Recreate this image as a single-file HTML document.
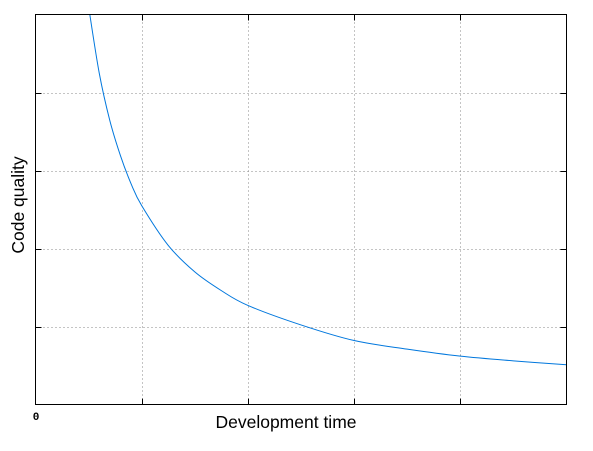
<!DOCTYPE html>
<html><head><meta charset="utf-8"><style>
body{margin:0;background:#fff;width:593px;height:451px;overflow:hidden}
svg{display:block}
</style></head><body>
<svg id="chart" width="593" height="451" xmlns="http://www.w3.org/2000/svg">
<defs><clipPath id="plotclip"><rect x="35.5" y="14.5" width="531" height="390"/></clipPath></defs>
<rect x="0" y="0" width="593" height="451" fill="#fff"/>
<g id="grid"></g>
<g id="ticks"></g>
<path id="curve" fill="none" stroke="#0077dd" stroke-width="1" clip-path="url(#plotclip)"/>
<rect x="35.5" y="14.5" width="531" height="390" fill="none" stroke="#000" stroke-width="1"/>
<text x="36" y="420" font-family="Liberation Mono, monospace" font-weight="bold" font-size="11" text-anchor="middle">0</text>
<text x="286" y="428" font-family="Liberation Sans, sans-serif" font-size="17.5" text-anchor="middle">Development time</text>
<text x="24" y="205" font-family="Liberation Sans, sans-serif" font-size="17.5" text-anchor="middle" transform="rotate(-90 24 205)">Code quality</text>
</svg>
<script>
const xTicks = [1, 2, 3, 4];
const yTicks = [1, 2, 3, 4];
const devTime = [0.5, 0.6, 0.7, 0.8, 0.9, 1, 1.25, 1.5, 1.75, 2, 2.5, 3, 3.5, 4, 4.5, 5];
const quality = [5.1, 4.25, 3.64, 3.19, 2.83, 2.55, 2.04, 1.7, 1.46, 1.27, 1.02, 0.82, 0.71, 0.62, 0.56, 0.51];
const L=35.5,R=566.5,T=14.5,B=404.5;
const sx=v=>L+(R-L)*v/5, sy=v=>B-(B-T)*v/5;
const NS='http://www.w3.org/2000/svg';
const grid=document.getElementById('grid'), ticks=document.getElementById('ticks');
function line(g,x1,y1,x2,y2,dash,name){
  const l=document.createElementNS(NS,'line');
  l.setAttribute('x1',x1);l.setAttribute('y1',y1);l.setAttribute('x2',x2);l.setAttribute('y2',y2);
  l.setAttribute('stroke',dash?'#888':'#000');l.setAttribute('stroke-width','1');
  if(dash)l.setAttribute('stroke-dasharray','1,3');
  
  
  g.appendChild(l);
}
xTicks.forEach(v=>{const x=Math.round(sx(v))+0.5;
  line(grid,x,T,x,B,true,'x-gridline');
  line(ticks,x,B,x,B-6,false,'x-tick');line(ticks,x,T,x,T+6,false,'x-tick');});
yTicks.forEach(v=>{const y=Math.round(sy(v))+0.5;
  line(grid,L,y,R,y,true,'y-gridline');
  line(ticks,L,y,L+6,y,false,'y-tick');line(ticks,R,y,R-6,y,false,'y-tick');});
const pts=devTime.map((v,i)=>[sx(v),sy(quality[i])]);
let d='M'+pts[0][0].toFixed(2)+','+pts[0][1].toFixed(2);
for(let i=0;i<pts.length-1;i++){
  const p0=pts[Math.max(0,i-1)],p1=pts[i],p2=pts[i+1],p3=pts[Math.min(pts.length-1,i+2)];
  const c1=[p1[0]+(p2[0]-p0[0])/6,p1[1]+(p2[1]-p0[1])/6];
  const c2=[p2[0]-(p3[0]-p1[0])/6,p2[1]-(p3[1]-p1[1])/6];
  d+='C'+c1.map(n=>n.toFixed(2)).join(',')+' '+c2.map(n=>n.toFixed(2)).join(',')+' '+p2.map(n=>n.toFixed(2)).join(',');
}
document.getElementById('curve').setAttribute('d',d);
</script>
</body></html>
